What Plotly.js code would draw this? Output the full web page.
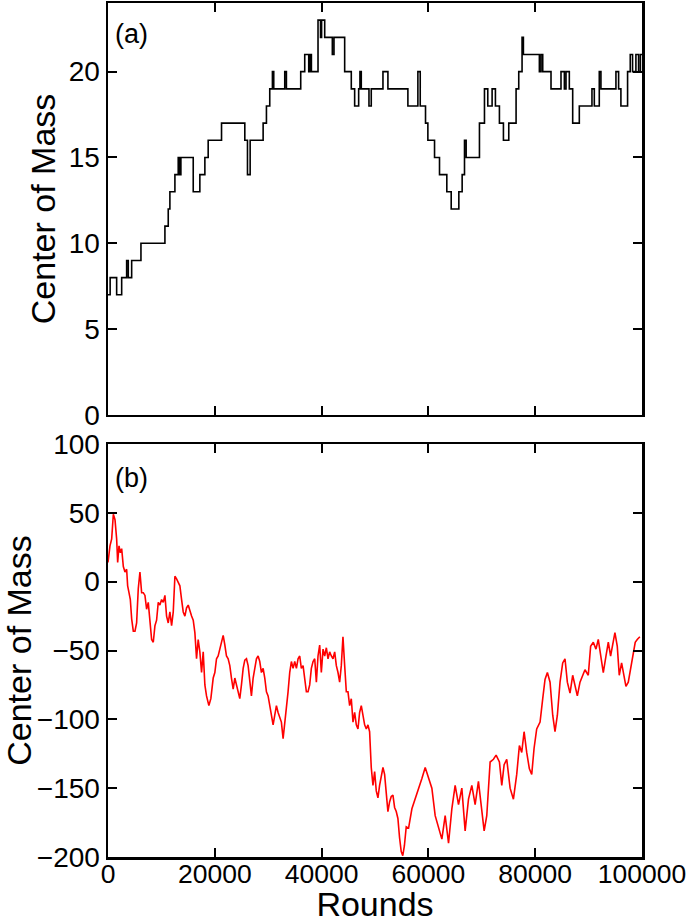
<!DOCTYPE html>
<html>
<head>
<meta charset="utf-8">
<script src="https://cdn.plot.ly/plotly-3.0.1.min.js"></script>
<style>html,body{margin:0;padding:0;background:#fff;}#chart{width:688px;height:923px;}</style>
</head>
<body>
<div id="chart"></div>
<script>
// Panel (a): step changes of the center of mass (round at which value changes, new value)
const roundsA = [0, 400, 1620, 2560, 3490, 3800, 4430, 6170, 10660, 11280, 11590, 12530, 13150, 13400, 13650,
  15960, 17200, 18140, 18760, 21260, 25620, 26120, 26620, 29050, 29670, 30290, 30790, 31040, 33100, 33410,
  36090, 36840, 37590, 37830, 38090, 39330, 39800, 40000, 40580, 41200, 42010, 42320, 44320, 45560, 46190,
  46940, 47180, 47430, 48870, 49300, 51490, 52420, 56160, 58030, 58470, 59460, 59900, 61150, 62080, 63450,
  64270, 65700, 66320, 66760, 67070, 69560, 70500, 71120, 71930, 72550, 73300, 74050, 75050, 76420, 76920,
  77540, 77790, 80780, 81090, 81410, 82960, 84830, 85460, 85770, 86390, 87020, 88260, 90630, 91070, 92000,
  92310, 95120, 95620, 96050, 97300, 97800, 98230, 98860, 99360, 99700, 100000];
const comA = [7, 8, 7, 8, 9, 8, 9, 10, 11, 12, 13, 14, 15, 14, 15,
  13, 14, 15, 16, 17, 16, 14, 16, 17, 18, 19, 20, 19, 20, 19,
  20, 21, 20, 21, 20, 23, 22, 23, 22, 22, 21, 22, 20, 19, 18,
  19, 20, 19, 18, 19, 20, 19, 18, 20, 18, 17, 16, 15, 14, 13,
  12, 13, 14, 16, 15, 17, 19, 18, 19, 18, 17, 16, 17, 19, 20,
  22, 21, 20, 21, 20, 19, 20, 19, 20, 19, 17, 18, 19, 18, 20,
  19, 20, 19, 18, 20, 21, 20, 21, 20, 21, 21];

// Panel (b): center of mass trajectory
const roundsB = [0, 370, 690, 1000, 1310, 1620, 1810, 2060, 2310, 2560, 2870, 3180, 3490, 3680, 3930, 4180,
  4430, 4740, 5050, 5360, 5670, 5980, 6300, 6610, 6920, 7230, 7540, 7850, 8170, 8480, 8790, 9100,
  9410, 9720, 10040, 10350, 10660, 10970, 11280, 11590, 11910, 12220, 12530, 12840, 13150, 13460, 13780,
  14090, 14400, 14710, 15020, 15330, 15650, 15960, 16270, 16580, 16890, 17200, 17520, 17830, 18140, 18450,
  18890, 19260, 19700, 20010, 20320, 20630, 20940, 21260, 21570, 21880, 22190, 22500, 22810, 23120, 23440,
  23750, 24060, 24370, 24680, 24990, 25310, 25620, 25930, 26240, 26550, 26860, 27180, 27490, 27800, 28110,
  28420, 28730, 29050, 29360, 29670, 29980, 30290, 30600, 30920, 31230, 31540, 31850, 32160, 32470, 32790,
  33100, 33410, 33720, 34030, 34340, 34660, 34970, 35280, 35590, 35900, 36210, 36530, 36840, 37150, 37460,
  37770, 38080, 38400, 38710, 39020, 39330, 39640, 39950, 40270, 40580, 40890, 41200, 41510, 41820, 42140,
  42450, 42760, 43070, 43380, 43690, 44000, 44320, 44630, 44940, 45250, 45560, 45880, 46190, 46500, 46810,
  47120, 47430, 47750, 48060, 48370, 48680, 48990, 49300, 49620, 49930, 50240, 50550, 50860, 51170, 51490,
  51800, 52110, 52420, 52730, 53040, 53360, 53670, 53980, 54290, 54600, 54910,
  55200, 55500, 55850, 56290, 56910,
  57530, 58160, 58780, 59400, 60030, 60650, 61270, 61900, 62520, 63140, 63770, 64390, 65010, 65640, 66260,
  66880, 67510, 68130, 68750, 69370, 70000, 70440, 70930, 71560, 72180, 72680, 73300, 73740, 74180, 74670,
  75300, 75920, 76540, 77040, 77480, 77920, 78410, 78910, 79350, 79790, 80280, 80910, 81410, 81840, 82280,
  82780, 83280, 83710, 84150, 84650, 85150, 85580, 86020, 86520, 87020, 87450, 87890, 88390, 88890, 89320,
  89940, 90380, 90880, 91380, 91810, 92250, 92750, 93250, 93690, 94120, 94500, 94930, 95370, 95740, 96180,
  96620, 96990, 97430, 97860, 98360, 98730, 99110, 99600];
const comB = [14, 26, 31, 49, 45, 31, 14, 26, 21, 24, 11, 7, 9, -3, -8, -13,
  -27, -36, -36, -30, -5, 7, -8, -8, -10, -20, -15, -32, -42, -44, -32, -28,
  -15, -17, -13, -15, -10, -25, -30, -22, -32, -22, 4, 2, -1, -3, -13,
  -22, -25, -19, -17, -22, -25, -28, -37, -56, -42, -51, -66, -51, -75, -83,
  -90, -85, -70, -66, -56, -54, -49, -42, -39, -46, -54, -56, -61, -70, -78,
  -70, -75, -80, -85, -75, -63, -57, -56, -61, -73, -83, -70, -61, -56, -54,
  -58, -66, -63, -70, -80, -83, -90, -99, -104, -97, -90, -95, -99, -102, -114,
  -104, -90, -80, -66, -58, -63, -58, -63, -56, -54, -63, -61, -70, -80, -80,
  -75, -63, -58, -56, -73, -54, -46, -66, -49, -54, -48, -56, -51, -54, -56,
  -51, -61, -66, -73, -61, -40, -61, -80, -80, -90, -85, -102, -95, -104, -107,
  -95, -90, -99, -104, -107, -104, -109, -135, -148, -138, -152, -157, -148, -140, -135,
  -140, -152, -167, -160, -156, -155, -164, -167, -172, -186, -196,
  -199, -192, -178, -179, -165,
  -158, -150, -143, -135, -142, -150, -170, -179, -187, -170, -190, -165, -148, -162, -150,
  -181, -158, -148, -162, -145, -165, -181, -170, -131, -129, -126, -131, -148, -133, -129,
  -150, -158, -140, -119, -124, -109, -124, -136, -140, -121, -107, -102, -85, -71, -66,
  -73, -97, -109, -97, -73, -59, -56, -73, -81, -68, -76, -83, -73, -68, -64,
  -68, -47, -44, -49, -42, -54, -66, -54, -44, -54, -47, -37, -47, -68, -59,
  -68, -76, -73, -64, -54, -44, -42, -40];

const xTicks = [0, 20000, 40000, 60000, 80000, 100000];
const xTickText = ['0', '20000', '40000', '60000', '80000', '100000'];
const yTicksA = [0, 5, 10, 15, 20];
const yTicksB = [-200, -150, -100, -50, 0, 50, 100];
const yTickTextB = ['\u2212200', '\u2212150', '\u2212100', '\u221250', '0', '50', '100'];

const FONT = 'Liberation Sans, Arial, sans-serif';
const axisCommon = {
  showline: true, mirror: 'ticks', linecolor: '#000', linewidth: 2.5,
  ticks: 'inside', ticklen: 9, tickwidth: 2, tickcolor: '#000',
  showgrid: false, zeroline: false,
  tickfont: {family: FONT, size: 28, color: '#000'}
};

const traces = [
  {x: roundsA, y: comA, type: 'scatter', mode: 'lines', line: {color: '#000', width: 1.6, shape: 'hv'},
   xaxis: 'x', yaxis: 'y', hoverinfo: 'skip'},
  {x: roundsB, y: comB, type: 'scatter', mode: 'lines', line: {color: '#ff0000', width: 1.6},
   xaxis: 'x2', yaxis: 'y2', hoverinfo: 'skip'}
];

const layout = {
  width: 688, height: 923,
  margin: {l: 108, r: 46, t: 3, b: 66},
  paper_bgcolor: '#fff', plot_bgcolor: '#fff',
  showlegend: false,
  font: {family: FONT, color: '#000'},
  xaxis: Object.assign({}, axisCommon, {
    domain: [0, 1], range: [0, 100000], anchor: 'y',
    tickvals: xTicks, showticklabels: false
  }),
  yaxis: Object.assign({}, axisCommon, {
    domain: [0.5176, 1], range: [0, 24], anchor: 'x',
    tickvals: yTicksA, ticktext: yTicksA.map(String),
    title: {text: 'Center of Mass', font: {family: FONT, size: 34, color: '#000'}, standoff: 3}
  }),
  xaxis2: Object.assign({}, axisCommon, {
    domain: [0, 1], range: [0, 100000], anchor: 'y2',
    tickvals: xTicks, ticktext: xTickText, ticklabelstandoff: -8,
    tickfont: {family: FONT, size: 26.5, color: '#000'},
    title: {text: 'Rounds', font: {family: FONT, size: 34, color: '#000'}, standoff: 14}
  }),
  yaxis2: Object.assign({}, axisCommon, {
    domain: [0, 0.4836], range: [-200, 100], anchor: 'x2',
    tickvals: yTicksB, ticktext: yTickTextB,
    title: {text: 'Center of Mass', font: {family: FONT, size: 34, color: '#000'}, standoff: 1}
  }),
  annotations: [
    {text: '(a)', xref: 'x domain', yref: 'y domain', x: 0.01, y: 0.965, xanchor: 'left', yanchor: 'top',
     showarrow: false, font: {family: FONT, size: 27, color: '#000'}},
    {text: '(b)', xref: 'x2 domain', yref: 'y2 domain', x: 0.01, y: 0.96, xanchor: 'left', yanchor: 'top',
     showarrow: false, font: {family: FONT, size: 27, color: '#000'}}
  ]
};

Plotly.newPlot('chart', traces, layout, {staticPlot: true, displayModeBar: false});
</script>
</body>
</html>
